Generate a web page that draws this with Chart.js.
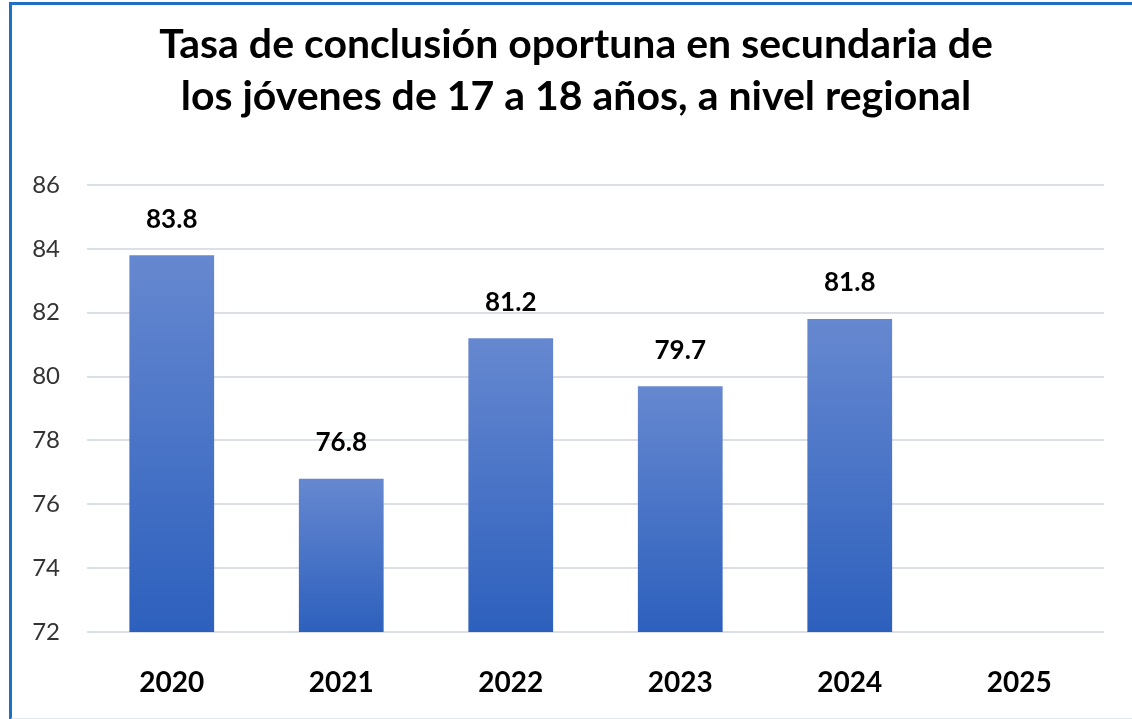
<!DOCTYPE html>
<html>
<head>
<meta charset="utf-8">
<script src="https://cdn.jsdelivr.net/npm/chart.js@4/dist/chart.umd.min.js"></script>
<style>
    html, body { margin: 0; padding: 0; background: #fff; overflow: hidden; }
    #frame {
        position: absolute; left: 9px; top: 2px; width: 1200px; height: 713px;
        border-left: 3px solid #1f6fc5; border-top: 3px solid #1f6fc5;
        border-bottom: 2px solid #e1e5ec;
    }
    #wrap { position: absolute; left: 0; top: 0; width: 1132px; height: 719px; }
</style>
</head>
<body>
<div id="frame"></div>
<div id="wrap"><canvas id="chart"></canvas></div>
<script>
const years = ['2020', '2021', '2022', '2023', '2024', '2025'];
const rates = [83.8, 76.8, 81.2, 79.7, 81.8, null];
const yTicks = [72, 74, 76, 78, 80, 82, 84, 86];
const titleLines = ['Tasa de conclusión oportuna en secundaria de', 'los jóvenes de 17 a 18 años, a nivel regional'];

const FONT = 'Lato, "Open Sans", sans-serif';

function barGradient(ctx) {
    const chart = ctx.chart;
    const area = chart.chartArea;
    if (!area || ctx.raw == null) return '#4472c4';
    const top = chart.scales.y.getPixelForValue(ctx.raw);
    const g = chart.ctx.createLinearGradient(0, top, 0, area.bottom);
    g.addColorStop(0, '#6688d0');
    g.addColorStop(1, '#2d60bd');
    return g;
}

// two-line title, centred a bit right of the canvas middle like the original
const titleDraw = {
    id: 'titleDraw',
    afterDraw(chart) {
        const c = chart.ctx;
        c.save();
        c.font = 'bold 41px ' + FONT;
        c.fillStyle = '#000';
        c.textAlign = 'center';
        c.textBaseline = 'middle';
        titleLines.forEach((t, i) => c.fillText(t, 576, 45 + i * 52));
        c.restore();
    }
};

// value labels above the bars
const valueLabels = {
    id: 'valueLabels',
    afterDatasetsDraw(chart) {
        const c = chart.ctx;
        const meta = chart.getDatasetMeta(0);
        c.save();
        c.font = 'bold 26px ' + FONT;
        c.fillStyle = '#000';
        c.textAlign = 'center';
        c.textBaseline = 'middle';
        meta.data.forEach((bar, i) => {
            if (rates[i] == null) return;
            c.fillText(rates[i].toFixed(1), bar.x, bar.y - 36);
        });
        c.restore();
    }
};

new Chart(document.getElementById('chart'), {
    type: 'bar',
    data: {
        labels: years,
        datasets: [{
            data: rates,
            backgroundColor: barGradient,
            borderWidth: 0,
            categoryPercentage: 1,
            barPercentage: 0.5
        }]
    },
    options: {
        responsive: true,
        maintainAspectRatio: false,
        animation: false,
        layout: { padding: { left: 0, right: 28, top: 185, bottom: 0 } },
        plugins: {
            legend: { display: false },
            tooltip: { enabled: false },
            title: { display: false }
        },
        scales: {
            x: {
                afterFit(scale) { scale.height = 87; },
                grid: { display: false, drawTicks: false },
                border: { display: false },
                ticks: {
                    color: '#000',
                    padding: 34,
                    font: { family: FONT, size: 28, weight: 'bold' }
                }
            },
            y: {
                min: yTicks[0],
                max: yTicks[yTicks.length - 1],
                afterFit(scale) { scale.width = 87; },
                afterBuildTicks(scale) { scale.ticks = yTicks.map(v => ({ value: v })); },
                grid: { color: '#dadfe8', lineWidth: 2, drawTicks: false },
                border: { display: false },
                ticks: {
                    color: '#333',
                    padding: 27,
                    font: { family: FONT, size: 24 }
                }
            }
        }
    },
    plugins: [valueLabels, titleDraw]
});
</script>
</body>
</html>
